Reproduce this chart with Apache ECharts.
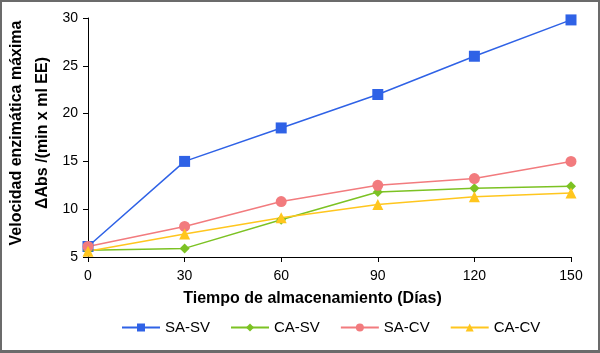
<!DOCTYPE html>
<html>
<head>
<meta charset="utf-8">
<script src="https://cdn.jsdelivr.net/npm/echarts@6/dist/echarts.min.js"></script>
<style>
  html, body { margin: 0; padding: 0; background: #fff; }
  #chart { width: 600px; height: 353px; box-sizing: border-box; border: 2px solid #6b6b6b; border-bottom-width: 3px; }
</style>
</head>
<body>
<div id="chart"></div>
<script>
const days = [0, 30, 60, 90, 120, 150];
const saSv = [6.1, 15.0, 18.5, 22.0, 26.0, 29.8];
const caSv = [5.7, 5.9, 8.9, 11.8, 12.2, 12.4];
const saCv = [6.1, 8.2, 10.8, 12.5, 13.2, 15.0];
const caCv = [5.6, 7.4, 9.1, 10.5, 11.3, 11.7];
const yTitle = ["Velocidad enzimática máxima", "ΔAbs /(min x ml EE)"];

const font = "Liberation Sans, Arial, sans-serif";

function pairs(vals) {
  return days.map((d, i) => [d, vals[i]]);
}

function makeSeries(name, vals, color, symbol, size) {
  return {
    name: name,
    type: "line",
    data: pairs(vals),
    symbol: symbol,
    symbolSize: size,
    lineStyle: { color: color, width: 1.5 },
    itemStyle: { color: color },
    emphasis: { disabled: true }
  };
}

// y title drawn as two rotated text lines
function titleLine(text, x) {
  return {
    type: "text",
    x: x,
    y: 131,
    rotation: Math.PI / 2,
    style: {
      text: text,
      font: "bold 16px " + font,
      fill: "#000",
      align: "center",
      verticalAlign: "middle"
    }
  };
}

var chart = echarts.init(document.getElementById("chart"));
chart.setOption({
  animation: false,
  textStyle: { fontFamily: font },
  grid: { left: 86, right: 27, top: 16, bottom: 93, containLabel: false, outerBoundsMode: "none" },
  graphic: [titleLine(yTitle[0], 15), titleLine(yTitle[1], 41)],
  legend: {
    bottom: 10,
    left: 114,
    itemWidth: 38,
    itemHeight: 10,
    itemGap: 20,
    textStyle: { fontSize: 15, color: "#000", fontFamily: font },
    data: ["SA-SV", "CA-SV", "SA-CV", "CA-CV"]
  },
  xAxis: {
    type: "value",
    min: 0,
    max: 150,
    interval: 30,
    name: "Tiempo de almacenamiento (Días)",
    nameLocation: "middle",
    nameGap: 34,
    nameTextStyle: { fontSize: 16, fontWeight: "bold", color: "#000", padding: [0, 34, 0, 0] },
    axisLine: { lineStyle: { color: "#000", width: 1 } },
    axisTick: { show: true, length: 5, lineStyle: { color: "#000" } },
    axisLabel: { fontSize: 14, color: "#000", margin: 12 },
    splitLine: { show: false }
  },
  yAxis: {
    type: "value",
    min: 5,
    max: 30,
    interval: 5,
    axisLine: { show: true, lineStyle: { color: "#000", width: 1 } },
    axisTick: { show: true, length: 5, lineStyle: { color: "#000" } },
    axisLabel: { fontSize: 14, color: "#000", margin: 10 },
    splitLine: { show: false }
  },
  series: [
    makeSeries("SA-SV", saSv, "#2f62e6", "rect", 11),
    makeSeries("CA-SV", caSv, "#7cc223", "diamond", 10),
    makeSeries("SA-CV", saCv, "#f27b7e", "circle", 11),
    makeSeries("CA-CV", caCv, "#ffc61e", "triangle", 11)
  ]
});
</script>
</body>
</html>
